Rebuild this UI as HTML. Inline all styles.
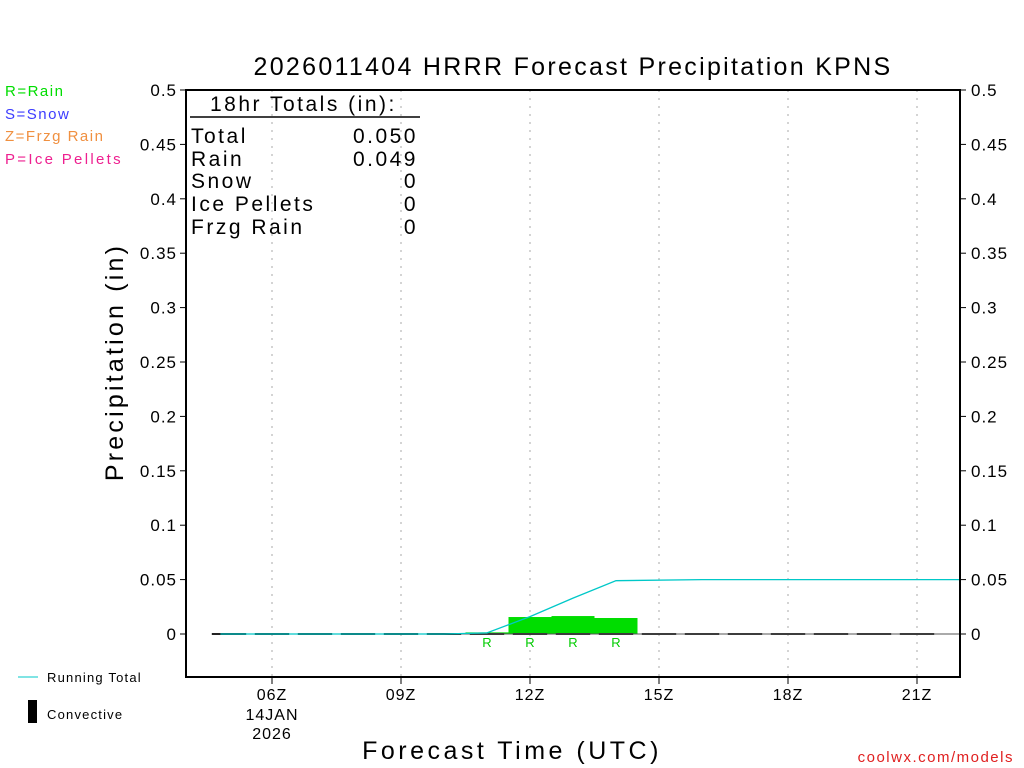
<!DOCTYPE html>
<html><head><meta charset="utf-8"><style>
body{margin:0;background:#fff;}
svg{display:block;font-family:"Liberation Sans","DejaVu Sans",sans-serif;}
</style></head><body>
<svg id="chart" width="1024" height="768" viewBox="0 0 1024 768" xmlns="http://www.w3.org/2000/svg">
<g id="grid"></g><g id="marks"></g><g id="axes"></g>
<text x="573" y="75" font-size="25" text-anchor="middle" fill="#000" letter-spacing="2.3">2026011404 HRRR Forecast Precipitation KPNS</text>
<text x="5" y="96" font-size="15" fill="#00dd00" letter-spacing="1.5">R=Rain</text>
<text x="5" y="119" font-size="15" fill="#3c3cff" letter-spacing="1.5">S=Snow</text>
<text x="5" y="141" font-size="15" fill="#f09040" letter-spacing="1.5">Z=Frzg Rain</text>
<text x="5" y="164" font-size="15" fill="#ee2090" letter-spacing="2.3">P=Ice Pellets</text>
<text transform="translate(123,362) rotate(-90)" font-size="25" text-anchor="middle" letter-spacing="3.2">Precipitation (in)</text>
<text x="512" y="759" font-size="25" text-anchor="middle" letter-spacing="3.5">Forecast Time (UTC)</text>
<text x="1014" y="762" font-size="15" text-anchor="end" fill="#e02020" letter-spacing="1.5">coolwx.com/models</text>
<line x1="18" y1="677" x2="38" y2="677" stroke="#00c8c8" stroke-width="1"/>
<text x="47" y="682" font-size="13" letter-spacing="1.2">Running Total</text>
<rect x="28" y="700" width="9" height="23" fill="#000"/>
<text x="47" y="719" font-size="13" letter-spacing="1.2">Convective</text>
<g font-size="21" fill="#000" letter-spacing="2.5">
<text x="210" y="111">18hr Totals (in):</text>
<line x1="190" y1="117" x2="420" y2="117" stroke="#000" stroke-width="1.5"/>
<text x="191" y="143">Total</text><text x="418" y="143" text-anchor="end">0.050</text>
<text x="191" y="166">Rain</text><text x="418" y="166" text-anchor="end">0.049</text>
<text x="191" y="188">Snow</text><text x="418" y="188" text-anchor="end">0</text>
<text x="191" y="211">Ice Pellets</text><text x="418" y="211" text-anchor="end">0</text>
<text x="191" y="234">Frzg Rain</text><text x="418" y="234" text-anchor="end">0</text>
</g>
</svg>
<script>
const yTicks=[0,0.05,0.1,0.15,0.2,0.25,0.3,0.35,0.4,0.45,0.5];
const yTickLabels=["0","0.05","0.1","0.15","0.2","0.25","0.3","0.35","0.4","0.45","0.5"];
const xTickHours=[6,9,12,15,18,21];
const xTickLabels=["06Z","09Z","12Z","15Z","18Z","21Z"];
const barHours=[11,12,13,14];
const barValues=[0.0015,0.0156,0.0165,0.0147];
const rainLabelHours=[11,12,13,14];
const totalHours=[4.8,6,8,10,11,12,13,14,16,18,20,22];
const totalValues=[0,0,0,0,0.001,0.016,0.033,0.049,0.05,0.05,0.05,0.05];
const zeroHours=[5,6,7,8,9,10,11,12,13,14,15,16,17,18,19,20,21];

const L=186,R=960,T=90,B=677,H0=4,H1=22;
const x=h=>L+(h-H0)*(R-L)/(H1-H0);
const y=v=>634-v*(634-90)/0.5;
const NS="http://www.w3.org/2000/svg";
function mk(tag,attrs,parent,text){const e=document.createElementNS(NS,tag);for(const k in attrs)e.setAttribute(k,attrs[k]);if(text!==undefined)e.textContent=text;document.getElementById(parent).appendChild(e);return e;}
xTickHours.forEach((h,i)=>{
 const g=mk('line',{x1:x(h),x2:x(h),y1:T,y2:B,stroke:'#aaa','stroke-dasharray':'2,6'},'grid');
 
 
});
barHours.forEach((h,i)=>{
 const r=mk('rect',{x:x(h-0.5),width:x(h+0.5)-x(h-0.5),y:y(barValues[i]),height:y(0)-y(barValues[i]),fill:'#00dd00'},'marks');
 
 
});
rainLabelHours.forEach(h=>{
 const t=mk('text',{x:x(h),y:647,'font-size':13,'text-anchor':'middle',fill:'#00cc00'},'marks','R');
 
 
});
zeroHours.forEach(h=>{
 const d=mk('line',{x1:x(h-0.4),x2:x(h+0.4),y1:y(0),y2:y(0),stroke:'#222','stroke-width':2},'marks');
 
 
});
const z=mk('line',{x1:x(4.8),x2:R,y1:y(0),y2:y(0),stroke:'#555','stroke-width':1},'marks');


const pl=mk('polyline',{points:totalHours.map((h,i)=>x(h)+','+y(totalValues[i])).join(' '),fill:'none',stroke:'#00c8c8','stroke-width':1.3},'marks');


const fr=mk('rect',{x:L,y:T,width:R-L,height:B-T,fill:'none',stroke:'#000','stroke-width':2},'axes');


yTicks.forEach((v,i)=>{
 mk('line',{x1:L-6,x2:L,y1:y(v),y2:y(v),stroke:'#000'},'axes');
 mk('line',{x1:R,x2:R+6,y1:y(v),y2:y(v),stroke:'#000'},'axes');
 const a=mk('text',{x:L-9,y:y(v)+6,'font-size':17,'text-anchor':'end','letter-spacing':1},'axes',yTickLabels[i]);
 
 
 const b=mk('text',{x:R+11,y:y(v)+6,'font-size':17,'letter-spacing':1},'axes',yTickLabels[i]);
 
 
});
xTickHours.forEach((h,i)=>{
 mk('line',{x1:x(h),x2:x(h),y1:B,y2:B+7,stroke:'#000'},'axes');
 const t=mk('text',{x:x(h),y:700,'font-size':16,'text-anchor':'middle','letter-spacing':1},'axes',xTickLabels[i]);
 
 
});
const d1=mk('text',{x:x(6),y:720,'font-size':16,'text-anchor':'middle','letter-spacing':1},'axes','14JAN');


const d2=mk('text',{x:x(6),y:739,'font-size':16,'text-anchor':'middle','letter-spacing':1},'axes','2026');


</script>
</body></html>
